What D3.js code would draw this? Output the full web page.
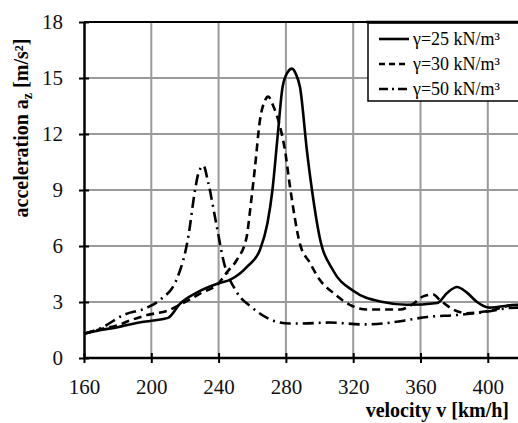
<!DOCTYPE html>
<html>
<head>
<meta charset="utf-8">
<script src="https://cdn.jsdelivr.net/npm/d3@7"></script>
<style>
  body { margin: 0; background: #fff; }
  svg { display: block; }
  svg text { font-family: "Liberation Serif", "Times New Roman", serif; }
</style>
</head>
<body>
<script>
// velocity [km/h] and acceleration [m/s2]
const v25 = [160, 170, 180, 190, 200, 210, 217, 227, 240, 247, 257, 264.6, 269, 272, 275, 278, 281, 283.6, 286, 288.4, 292.5, 295.5, 300, 308, 320, 337.7, 352, 370, 376, 381.7, 387.6, 393.6, 401, 417, 420];
const a25 = [1.3, 1.5, 1.65, 1.85, 2.0, 2.15, 2.9, 3.5, 4.0, 4.2, 4.9, 5.8, 7.2, 9.0, 11.8, 14.5, 15.3, 15.5, 15.2, 14.5, 11.1, 9.0, 6.5, 4.7, 3.6, 3.0, 2.85, 2.95, 3.5, 3.8, 3.5, 3.0, 2.7, 2.85, 2.8];

const v30 = [160, 170, 180, 187, 197.5, 210, 220, 230, 240, 245, 250.8, 256.7, 258.7, 261.6, 264.6, 267.6, 269.5, 272.5, 276.5, 279.5, 282.4, 288.4, 294.3, 300, 308, 318, 328, 348, 355.6, 361.6, 367.6, 371.6, 379.4, 387.6, 399.5, 417, 420];
const a30 = [1.3, 1.55, 1.75, 2.0, 2.3, 2.55, 3.0, 3.5, 4.0, 4.6, 5.25, 6.5, 7.9, 10.2, 12.75, 13.8, 14.0, 13.5, 12.4, 11.1, 9.2, 6.1, 5.1, 4.2, 3.5, 2.85, 2.6, 2.6, 2.9, 3.3, 3.4, 3.1, 2.6, 2.4, 2.5, 2.85, 2.85];

const v50 = [160, 170, 183.4, 197.5, 205, 215, 222, 226, 228, 231, 233.8, 239, 242.8, 251, 260, 272.5, 282.4, 290, 306, 326, 338, 350, 364, 381.7, 397, 417, 420];
const a50 = [1.3, 1.6, 2.3, 2.7, 3.1, 4.2, 6.5, 9.0, 9.9, 10.3, 9.4, 7.0, 5.25, 3.5, 2.7, 2.0, 1.85, 1.85, 1.9, 1.8, 1.85, 2.0, 2.2, 2.3, 2.45, 2.7, 2.7];

const seriesNames = ["\u03b3=25 kN/m\u00b3", "\u03b3=30 kN/m\u00b3", "\u03b3=50 kN/m\u00b3"];
const xTicks = [160, 200, 240, 280, 320, 360, 400];
const yTicks = [0, 3, 6, 9, 12, 15, 18];

const width = 518, height = 423;
const plotLeft = 84, plotBottom = 358, plotTop = 22;
const serif = "Liberation Serif";

const x = d3.scaleLinear().domain([160, 420]).range([plotLeft, plotLeft + 260 * 67.3 / 40]);
const y = d3.scaleLinear().domain([0, 18]).range([plotBottom, plotTop]);

const svg = d3.select("body").append("svg")
    .attr("width", width)
    .attr("height", height);

// grid
svg.append("g").selectAll("line")
  .data(xTicks.slice(1))
  .enter().append("line")
    .attr("x1", d => x(d)).attr("x2", d => x(d))
    .attr("y1", plotTop).attr("y2", plotBottom)
    .attr("stroke", "#9a9a9a").attr("stroke-width", 2);

svg.append("g").selectAll("line")
  .data(yTicks.slice(1, -1))
  .enter().append("line")
    .attr("x1", plotLeft).attr("x2", width)
    .attr("y1", d => y(d)).attr("y2", d => y(d))
    .attr("stroke", "#9a9a9a").attr("stroke-width", 2);

// top border
svg.append("line")
    .attr("x1", plotLeft).attr("x2", width)
    .attr("y1", y(18)).attr("y2", y(18))
    .attr("stroke", "#000").attr("stroke-width", 2);

// curves
const series = [
  { v: v25, a: a25, dash: null, key: null },
  { v: v30, a: a30, dash: "8,5", key: "6,4" },
  { v: v50, a: a50, dash: "11,5,2,5", key: "9,4,2,4" }
];

const line = d3.line()
    .x(d => x(d[0]))
    .y(d => y(d[1]))
    .curve(d3.curveMonotoneX);

svg.append("g").selectAll("path")
  .data(series)
  .enter().append("path")
    .attr("d", s => line(s.v.map((d, i) => [d, s.a[i]])))
    .attr("fill", "none")
    .attr("stroke", "#000")
    .attr("stroke-width", 2.6)
    .attr("stroke-dasharray", s => s.dash);

// axes
const xAxis = svg.append("g")
    .attr("transform", `translate(0,${plotBottom})`)
    .call(d3.axisBottom(x).tickValues(xTicks).tickSize(5).tickSizeOuter(0));
xAxis.select(".domain").attr("stroke-width", 2.5).attr("d", `M${plotLeft},0H${width}`);
xAxis.selectAll(".tick line").attr("y1", -5).attr("stroke-width", 2);
xAxis.selectAll(".tick text")
    .attr("y", 36).attr("dy", 0)
    .attr("font-size", 21).attr("font-family", serif).attr("fill", "#111");

const yAxis = svg.append("g")
    .attr("transform", `translate(${plotLeft},0)`)
    .call(d3.axisLeft(y).tickValues(yTicks).tickSize(5).tickSizeOuter(0).tickPadding(16));
yAxis.select(".domain").attr("stroke-width", 2.5);
yAxis.selectAll(".tick line").attr("x1", 5).attr("x2", -5).attr("stroke-width", 2);
yAxis.selectAll(".tick text")
    .attr("font-size", 21).attr("font-family", serif).attr("fill", "#111");

// axis titles
svg.append("text")
    .attr("x", 509).attr("y", 417)
    .attr("text-anchor", "end")
    .attr("font-size", 20).attr("font-weight", "bold")
    .text("velocity v [km/h]");

const yTitle = svg.append("text")
    .attr("transform", "translate(28,128) rotate(-90)")
    .attr("text-anchor", "middle")
    .attr("font-size", 20).attr("font-weight", "bold");
yTitle.append("tspan").text("acceleration a");
yTitle.append("tspan").attr("font-size", 14).attr("dy", 4).text("z");
yTitle.append("tspan").attr("dy", -4).text(" [m/s\u00b2]");

// legend
const lg = svg.append("g");
lg.append("rect")
    .attr("x", 368).attr("y", 23)
    .attr("width", 170).attr("height", 78)
    .attr("fill", "#fff").attr("stroke", "#000").attr("stroke-width", 1.5);
lg.append("line")
    .attr("x1", 366).attr("x2", width).attr("y1", 22).attr("y2", 22)
    .attr("stroke", "#000").attr("stroke-width", 2.5);

const rows = lg.selectAll("g.row")
  .data(series)
  .enter().append("g")
    .attr("transform", (d, i) => `translate(0,${39 + i * 25})`);
rows.append("line")
    .attr("x1", 379).attr("x2", 409)
    .attr("stroke", "#000").attr("stroke-width", 2.6)
    .attr("stroke-dasharray", s => s.key);
rows.append("text")
    .attr("x", 413).attr("y", 6)
    .attr("font-size", 18).attr("font-family", serif)
    .text((d, i) => seriesNames[i]);
</script>
</body>
</html>
